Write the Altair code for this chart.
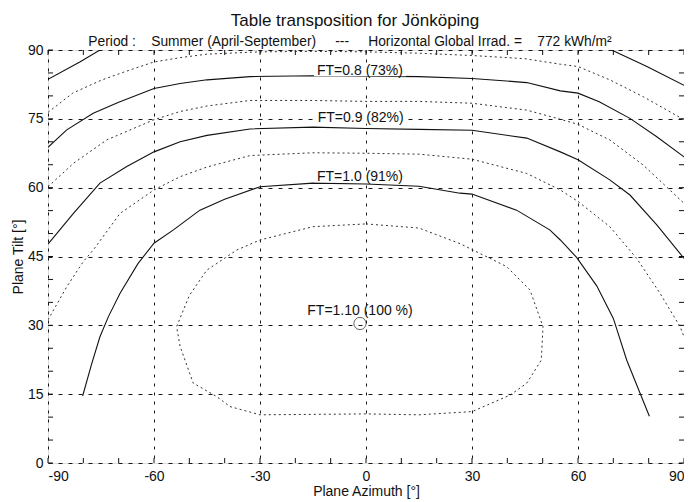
import altair as alt
import pandas as pd

FONT = "Liberation Sans"
NB = "\u00a0"
TITLE = "Table transposition for Jönköping"
SUBTITLE = ("Period :" + NB * 4 + "Summer (April-September)" + NB * 5 + "---" + NB * 5
            + "Horizontal Global Irrad. =" + NB * 4 + "772 kWh/m²")
X_TITLE = "Plane Azimuth [°]"
Y_TITLE = "Plane Tilt [°]"

# ---- contour lines (azimuth, tilt) ----
ft070_left_az = [-90, -81, -75.3]
ft070_left_tilt = [83.6, 87.4, 90.0]
ft070_right_az = [69.5, 79.5, 90]
ft070_right_tilt = [90.0, 86.4, 82.3]

ft075_az = [-90, -83, -75, -67, -60, -52, -45, -30, -15, 0, 15, 30, 45, 55, 60, 69, 78.5, 90]
ft075_tilt = [76.4, 80.6, 83.4, 85.6, 87.4, 88.4, 89.1, 89.6, 89.7, 89.6, 89.3, 88.8, 88.1, 86.9, 86.4, 83.5, 79.8, 74.8]

ft080_az = [-90, -84.7, -77.2, -70, -60, -52.6, -45, -32.8, -15, 0, 15, 30, 45.5, 55, 60, 66, 74.7, 82.3, 90]
ft080_tilt = [68.8, 72.6, 76.2, 78.6, 81.6, 82.7, 83.5, 84.2, 84.4, 84.3, 84.2, 83.8, 82.9, 81.1, 80.6, 78.7, 75.1, 71.1, 66.7]

ft085_az = [-90, -82.8, -73.4, -60, -52.6, -45, -32.8, -15, 0, 15, 30, 45.5, 55, 60, 69, 78.5, 90]
ft085_tilt = [60.2, 65.3, 70.4, 74.8, 76.6, 77.8, 79.0, 79.0, 78.8, 78.8, 78.4, 76.9, 74.9, 73.8, 70.4, 64.9, 56.6]

ft090_az = [-90, -82.8, -75.3, -67.7, -60, -52.6, -45, -32.8, -15, 0, 15, 30, 45.5, 55, 60, 69, 74.7, 82.3, 90]
ft090_tilt = [47.7, 54.4, 61.0, 64.6, 67.8, 70.0, 71.4, 72.8, 73.2, 72.9, 72.7, 72.5, 70.8, 67.8, 66.1, 61.7, 58.4, 51.9, 44.6]

ft095_az = [-90, -84.7, -80, -77.2, -69.6, -60, -52.6, -45, -32.8, -15, 0, 15, 30, 45.5, 55, 60, 69, 76.6, 83.2, 88.9, 90]
ft095_tilt = [31.2, 38.4, 43.9, 46.4, 54.4, 59.5, 62.4, 64.5, 67.0, 67.6, 67.5, 67.3, 66.2, 63.1, 59.5, 57.0, 51.5, 44.6, 37.0, 29.7, 27.5]

ft100_az = [-80.2, -77.6, -75.3, -72.9, -69.6, -64.5, -60, -54.5, -47, -40, -30, -15, 0, 15, 26.6, 30, 42.6, 52, 55, 59.6, 65.3, 70, 73.8, 78, 80.2]
ft100_tilt = [14.6, 21.7, 27.5, 31.9, 37.0, 43.5, 47.9, 50.8, 55.1, 57.5, 60.2, 61.0, 60.8, 60.3, 58.8, 58.6, 55.1, 50.8, 48.6, 44.8, 38.6, 31.5, 22.4, 14.4, 10.2]

ft105_az = [0, 15, 26.6, 33.2, 39.8, 46.4, 50.1, 49.6, 45.5, 40.8, 30, 15, 0, -15, -30, -38.5, -42.3, -48.9, -52.6, -53.6, -50, -45.1, -36.6, -30, -15, 0]
ft105_tilt = [52.1, 51.2, 47.8, 45.3, 42.8, 37.7, 29.7, 22.4, 17.4, 14.8, 11.2, 10.5, 10.7, 10.6, 10.5, 12.3, 14.5, 17.4, 25.4, 29.7, 36.5, 42.0, 46.4, 48.6, 51.5, 52.1]

# optimum
opt_az = [-1.7]
opt_tilt = [30.4]

# contour labels
label_text = ["FT=0.8 (73%)", "FT=0.9 (82%)", "FT=1.0 (91%)", "FT=1.10 (100 %)"]
label_az = [-1.7, -1.5, -1.7, -1.7]
label_tilt = [85.5, 75.1, 62.4, 33.2]
label_boxed = [True, True, True, False]

# axes
x_tick_values = [-90, -60, -30, 0, 30, 60, 90]
y_tick_values = [0, 15, 30, 45, 60, 75, 90]
x_minor = [-90, -80, -70, -60, -50, -40, -30, -20, -10, 0, 10, 20, 30, 40, 50, 60, 70, 80, 90]
y_minor = [0, 5, 10, 15, 20, 25, 30, 35, 40, 45, 50, 55, 60, 65, 70, 75, 80, 85, 90]

solid_lines = [
    ("ft070L", ft070_left_az, ft070_left_tilt),
    ("ft070R", ft070_right_az, ft070_right_tilt),
    ("ft080", ft080_az, ft080_tilt),
    ("ft090", ft090_az, ft090_tilt),
    ("ft100", ft100_az, ft100_tilt),
]
dotted_lines = [
    ("ft075", ft075_az, ft075_tilt),
    ("ft085", ft085_az, ft085_tilt),
    ("ft095", ft095_az, ft095_tilt),
    ("ft105", ft105_az, ft105_tilt),
]


def to_df(lines):
    rows = []
    for name, az, tl in lines:
        for i, (a, t) in enumerate(zip(az, tl)):
            rows.append({"line": name, "idx": i, "az": a, "tilt": t})
    return pd.DataFrame(rows)


df_solid = to_df(solid_lines)
df_dotted = to_df(dotted_lines)
df_labels = pd.DataFrame({"az": label_az, "tilt": label_tilt, "text": label_text, "boxed": label_boxed})
df_opt = pd.DataFrame({"az": opt_az, "tilt": opt_tilt})
df_xminor = pd.DataFrame({"az": x_minor})
df_yminor = pd.DataFrame({"tilt": y_minor})

W, H = 636, 413
TICK = 5

xs = alt.Scale(domain=[-90, 90], nice=False, zero=False)
ys = alt.Scale(domain=[0, 90], nice=False, zero=False)

x_axis = alt.Axis(
    values=x_tick_values, labelExpr="'' + datum.value", title=X_TITLE,
    grid=True, gridDash=[3, 6], gridColor="black", gridWidth=1, gridOpacity=0.9,
    domain=False, ticks=False, labelFontSize=14, labelPadding=6, labelColor="#111",
    titleFontSize=14, titleFontWeight="normal", titlePadding=1, titleColor="#111",
    labelFont=FONT, titleFont=FONT,
)
y_axis = alt.Axis(
    values=y_tick_values, labelExpr="'' + datum.value", title=Y_TITLE,
    grid=True, gridDash=[4, 6], gridColor="black", gridWidth=1, gridOpacity=0.9,
    domain=False, ticks=False, labelFontSize=14, labelPadding=5, labelColor="#111",
    titleFontSize=14, titleFontWeight="normal", titlePadding=2, titleColor="#111",
    labelFont=FONT, titleFont=FONT,
)

X = alt.X("az:Q", scale=xs, axis=x_axis)
Y = alt.Y("tilt:Q", scale=ys, axis=y_axis)

solid = alt.Chart(df_solid).mark_line(color="#111", strokeWidth=1.1, clip=True).encode(
    x=X, y=Y, detail="line:N", order="idx:Q"
)
dotted = alt.Chart(df_dotted).mark_line(color="#333", strokeWidth=1, strokeDash=[2, 3], clip=True).encode(
    x=X, y=Y, detail="line:N", order="idx:Q"
)

boxes = alt.Chart(df_labels).transform_filter("datum.boxed").mark_rect(
    color="white", width=92, height=11
).encode(x=X, y=Y)

labels = alt.Chart(df_labels).mark_text(
    font=FONT, fontSize=14, color="#111", align="center", baseline="middle"
).encode(x=X, y=Y, text="text:N")

opt = alt.Chart(df_opt).mark_point(shape="circle", size=150, filled=False, color="#222", strokeWidth=1).encode(x=X, y=Y)

tick_bottom = alt.Chart(df_xminor).mark_rule(color="#111", strokeWidth=1).encode(
    x=X, y=alt.value(H), y2=alt.value(H - TICK))
tick_top = alt.Chart(df_xminor).mark_rule(color="#111", strokeWidth=1).encode(
    x=X, y=alt.value(0), y2=alt.value(TICK))
tick_left = alt.Chart(df_yminor).mark_rule(color="#111", strokeWidth=1).encode(
    y=Y, x=alt.value(0), x2=alt.value(TICK))
tick_right = alt.Chart(df_yminor).mark_rule(color="#111", strokeWidth=1).encode(
    y=Y, x=alt.value(W), x2=alt.value(W - TICK))

one = alt.Data(values=[{"k": 0}])
title = alt.Chart(one).mark_text(font=FONT, fontSize=17, color="#111", align="center", baseline="alphabetic").encode(
    x=alt.value(307), y=alt.value(-24), text=alt.value(TITLE))
subtitle = alt.Chart(one).mark_text(font=FONT, fontSize=13.8, color="#111", align="center", baseline="alphabetic").encode(
    x=alt.value(302), y=alt.value(-4), text=alt.value(SUBTITLE))

chart = alt.layer(
    tick_bottom, tick_top, tick_left, tick_right,
    dotted, solid, boxes, labels, opt, title, subtitle,
).properties(
    width=W, height=H,
    autosize=alt.AutoSizeParams(type="none"),
    padding={"left": 40, "top": 42, "right": 0, "bottom": 37},
).configure_view(
    stroke="#111", strokeWidth=3
).configure(font=FONT, background="white")

chart.save("out.html", embed_options={"renderer": "svg", "actions": False})
